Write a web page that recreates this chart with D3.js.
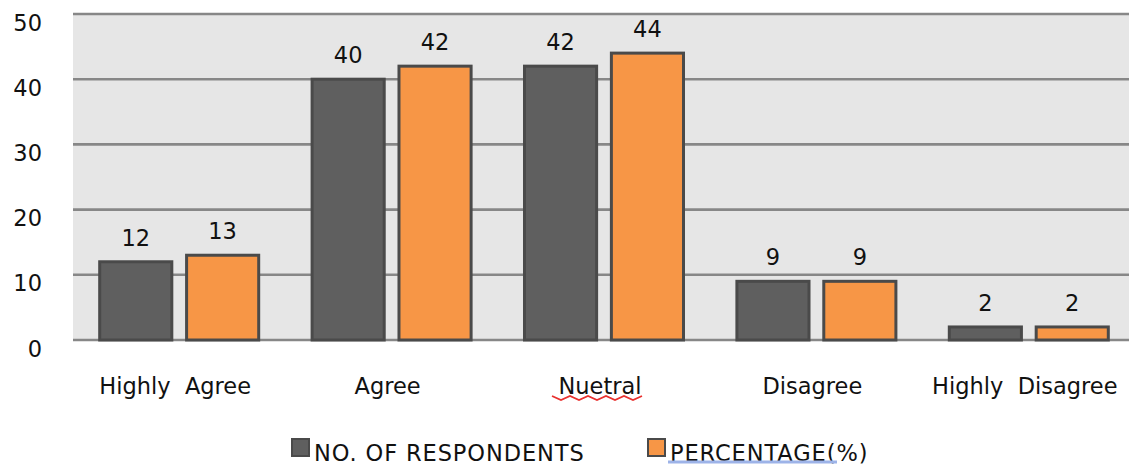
<!DOCTYPE html>
<html>
<head>
<meta charset="utf-8">
<script src="https://cdn.jsdelivr.net/npm/d3@7"></script>
<style>
  html, body { margin: 0; padding: 0; background: #ffffff; }
  svg { display: block; }
  text { font-family: "DejaVu Sans", Verdana, sans-serif; fill: #111; }
</style>
</head>
<body>
<svg id="chart" width="1129" height="466"></svg>
<script>
// Survey responses by agreement level
const categories = ["Highly  Agree", "Agree", "Nuetral", "Disagree", "Highly  Disagree"];
const seriesNames = ["NO. OF RESPONDENTS", "PERCENTAGE(%)"];
const respondents = [12, 40, 42, 9, 2];
const percentage = [13, 42, 44, 9, 2];
const yTicks = [0, 10, 20, 30, 40, 50];

const seriesValues = [respondents, percentage];
const colors = ["#5f5f5f", "#f79646"];

const FONT = 22.5;
const plot = { left: 73, right: 1135, top: 14, bottom: 340 };

const svg = d3.select("#chart");

const x0 = d3.scaleBand()
  .domain(categories)
  .range([plot.left, plot.right])
  .paddingInner(0.2514)
  .paddingOuter(0.1257);

const x1 = d3.scaleBand()
  .domain(seriesNames)
  .range([0, x0.bandwidth()])
  .paddingInner(0.17);

const y = d3.scaleLinear().domain([0, 50]).range([plot.bottom, plot.top]);

// plot background
svg.append("rect")
  .attr("x", plot.left).attr("y", plot.top)
  .attr("width", plot.right - plot.left).attr("height", plot.bottom - plot.top)
  .attr("fill", "#e6e6e6");

// horizontal gridlines
svg.append("g").selectAll("line").data(yTicks).join("line")
  .attr("x1", plot.left).attr("x2", plot.right)
  .attr("y1", d => y(d)).attr("y2", d => y(d))
  .attr("stroke", "#878787").attr("stroke-width", 2.6);

// y axis labels (sit a little below their gridlines)
const yAxis = d3.axisLeft(y).tickValues(yTicks).tickSize(0).tickPadding(31);
const gy = svg.append("g").attr("transform", `translate(${plot.left},0)`).call(yAxis);
gy.select(".domain").remove();
gy.selectAll("text")
  .attr("dy", 16)
  .attr("font-family", "DejaVu Sans, Verdana, sans-serif")
  .attr("font-size", FONT).attr("fill", "#111");

// rows of bars
const rows = categories.map((c, i) => ({
  cat: c,
  vals: seriesNames.map((s, k) => ({ s, k, v: seriesValues[k][i] }))
}));

const groups = svg.append("g").selectAll("g").data(rows).join("g")
  .attr("transform", d => `translate(${x0(d.cat)},0)`);

groups.selectAll("rect").data(d => d.vals).join("rect")
  .attr("x", d => x1(d.s))
  .attr("y", d => y(d.v))
  .attr("width", x1.bandwidth())
  .attr("height", d => y(0) - y(d.v))
  .attr("fill", d => colors[d.k])
  .attr("stroke", "#4a4a4a")
  .attr("stroke-width", 3);

groups.selectAll("text").data(d => d.vals).join("text")
  .attr("x", d => x1(d.s) + x1.bandwidth() / 2)
  .attr("y", d => y(d.v) - 16)
  .attr("text-anchor", "middle")
  .attr("font-size", FONT)
  .text(d => d.v);

// category axis labels
const xAxis = d3.axisBottom(x0).tickSize(0).tickPadding(0);
const gx = svg.append("g").attr("transform", `translate(0,${plot.bottom})`).call(xAxis);
gx.select(".domain").remove();
gx.selectAll("text")
  .attr("dy", 0).attr("y", 54)
  .attr("dx", -4)
  .attr("font-family", "DejaVu Sans, Verdana, sans-serif")
  .attr("font-size", FONT).attr("fill", "#111")
  .style("white-space", "pre");

// squiggle under the misspelled category
const nuetralX = x0("Nuetral") + x0.bandwidth() / 2 - 7;
const squig = [];
for (let i = 0; i <= 10; i++) {
  squig.push([nuetralX - 45 + i * 9, 396 + (i % 2 === 0 ? 0 : 4)]);
}
svg.append("path")
  .attr("d", d3.line()(squig))
  .attr("fill", "none").attr("stroke", "#e8302e").attr("stroke-width", 1.8);

// legend
const legendX = [291, 647];
const legend = svg.append("g").selectAll("g").data(seriesNames).join("g")
  .attr("transform", (d, i) => `translate(${legendX[i]},438)`);
legend.append("rect")
  .attr("x", 1).attr("y", 1)
  .attr("width", 17).attr("height", 17)
  .attr("fill", (d, i) => colors[i])
  .attr("stroke", "#4a4a4a").attr("stroke-width", 2);
legend.append("text")
  .attr("x", 23).attr("y", 23)
  .attr("font-size", FONT)
  .attr("letter-spacing", 0.9)
  .text(d => d);

// underline beneath the second legend entry
svg.append("line")
  .attr("x1", 668).attr("x2", 837).attr("y1", 462).attr("y2", 462)
  .attr("stroke", "#9db3e8").attr("stroke-width", 3);
</script>
</body>
</html>
